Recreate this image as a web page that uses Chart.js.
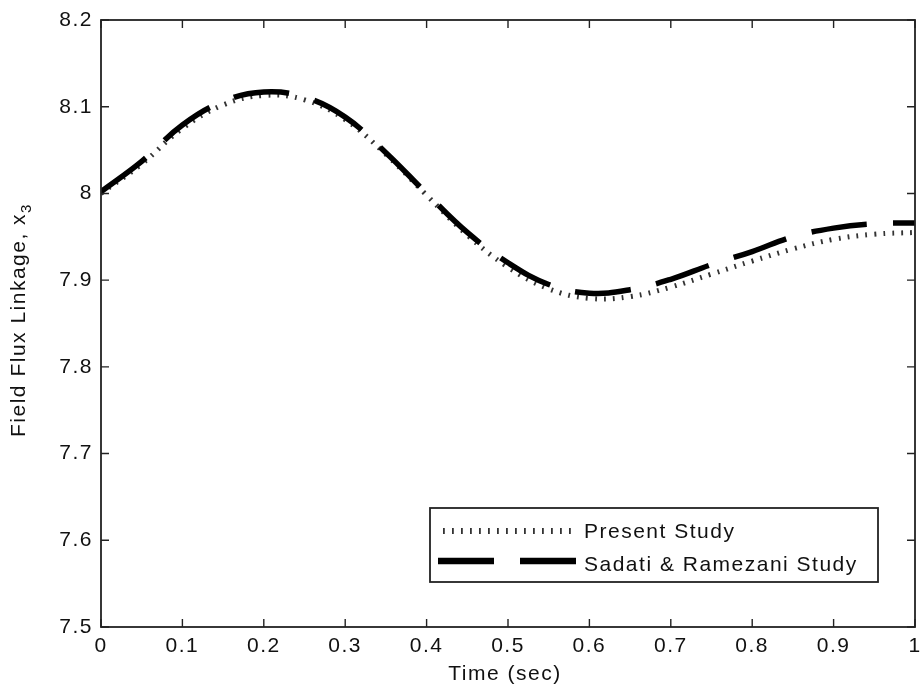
<!DOCTYPE html>
<html lang="en">
<head>
    <meta charset="UTF-8">
    <title>Field Flux Linkage</title>
    <script src="https://cdn.jsdelivr.net/npm/chart.js@4.4.1/dist/chart.umd.min.js"></script>
    <style>
        body {
            margin: 0;
            padding: 0;
            background-color: #ffffff;
        }

        .chart-container {
            position: relative;
            width: 920px;
            height: 693px;
        }
    </style>
</head>
<body>
    <div class="chart-container">
        <canvas id="flux-chart" width="920" height="693"></canvas>
    </div>

    <script>
        // Values
        const timeValues = [0, 0.05, 0.1, 0.15, 0.2, 0.25, 0.3, 0.35, 0.4, 0.45, 0.5,
                            0.55, 0.6, 0.65, 0.7, 0.75, 0.8, 0.85, 0.9, 0.95, 1.0];
        const presentStudy = [8.000, 8.034, 8.075, 8.102, 8.113, 8.108, 8.085, 8.045, 7.998, 7.952, 7.915,
                              7.890, 7.879, 7.881, 7.892, 7.907, 7.922, 7.936, 7.947, 7.953, 7.955];
        const sadatiStudy = [8.002, 8.037, 8.079, 8.106, 8.117, 8.111, 8.088, 8.047, 8.000, 7.955, 7.920,
                             7.895, 7.885, 7.889, 7.901, 7.918, 7.933, 7.950, 7.960, 7.965, 7.966];
        const xTickLabels = ['0', '0.1', '0.2', '0.3', '0.4', '0.5', '0.6', '0.7', '0.8', '0.9', '1'];
        const yTickLabels = ['7.5', '7.6', '7.7', '7.8', '7.9', '8', '8.1', '8.2'];
        const seriesNames = ['Present Study', 'Sadati & Ramezani Study'];

        const FAMILY = '"Liberation Sans", Arial, sans-serif';
        const FONT = '21px ' + FAMILY;
        const SPACING = '1.5px';
        const INK = '#111111';

        function toPoints(ys) {
            return timeValues.map((t, i) => ({ x: t, y: ys[i] }));
        }

        // box, inward ticks, axis titles and legend, MATLAB style
        const matlabFrame = {
            id: 'matlabFrame',
            beforeDraw(chart) {
                chart.ctx.letterSpacing = SPACING;
            },
            afterDraw(chart) {
                const ctx = chart.ctx;
                const area = chart.chartArea;
                const xs = chart.scales.x;
                const ys = chart.scales.y;
                const tick = 8;

                ctx.save();
                ctx.strokeStyle = '#222';
                ctx.lineWidth = 1.8;
                ctx.strokeRect(area.left, area.top, area.right - area.left, area.bottom - area.top);

                ctx.lineWidth = 1.4;
                ctx.beginPath();
                xs.ticks.forEach(t => {
                    const px = xs.getPixelForValue(t.value);
                    ctx.moveTo(px, area.bottom);
                    ctx.lineTo(px, area.bottom - tick);
                    ctx.moveTo(px, area.top);
                    ctx.lineTo(px, area.top + tick);
                });
                ys.ticks.forEach(t => {
                    const py = ys.getPixelForValue(t.value);
                    ctx.moveTo(area.left, py);
                    ctx.lineTo(area.left + tick, py);
                    ctx.moveTo(area.right, py);
                    ctx.lineTo(area.right - tick, py);
                });
                ctx.stroke();

                // axis titles
                ctx.fillStyle = INK;
                ctx.font = FONT;
                ctx.letterSpacing = SPACING;
                ctx.textAlign = 'center';
                ctx.textBaseline = 'alphabetic';
                ctx.fillText('Time (sec)', 505, 680);

                ctx.save();
                ctx.translate(25, 320);
                ctx.rotate(-Math.PI / 2);
                const main = 'Field Flux Linkage, x';
                ctx.font = FONT;
                const mainW = ctx.measureText(main).width;
                ctx.font = '15px ' + FAMILY;
                const subW = ctx.measureText('3').width;
                const start = -(mainW + subW) / 2;
                ctx.textAlign = 'left';
                ctx.font = FONT;
                ctx.fillText(main, start, 0);
                ctx.font = '15px ' + FAMILY;
                ctx.fillText('3', start + mainW, 6);
                ctx.restore();

                // legend
                const lg = { left: 430, top: 508, right: 878, bottom: 582 };
                ctx.fillStyle = '#ffffff';
                ctx.fillRect(lg.left, lg.top, lg.right - lg.left, lg.bottom - lg.top);
                ctx.strokeStyle = '#222';
                ctx.lineWidth = 1.8;
                ctx.strokeRect(lg.left, lg.top, lg.right - lg.left, lg.bottom - lg.top);

                const sets = chart.data.datasets;
                const rows = [561, 531];
                sets.forEach((ds, i) => {
                    ctx.beginPath();
                    ctx.strokeStyle = ds.borderColor;
                    ctx.lineWidth = ds.borderWidth + 1;
                    ctx.setLineDash(ds.borderDash);
                    ctx.lineCap = 'butt';
                    ctx.moveTo(ds.legendStart, rows[i]);
                    ctx.lineTo(578, rows[i]);
                    ctx.stroke();
                });
                ctx.setLineDash([]);
                ctx.fillStyle = INK;
                ctx.font = FONT;
                ctx.textAlign = 'left';
                ctx.fillText(sets[1].label, 584, 538);
                ctx.fillText(sets[0].label, 584, 571);
                ctx.restore();
            }
        };

        new Chart(document.getElementById('flux-chart'), {
            type: 'line',
            data: {
                datasets: [{
                    label: seriesNames[1],
                    data: toPoints(sadatiStudy),
                    borderColor: '#000000',
                    borderWidth: 5.5,
                    borderDash: [56, 26],
                    legendStart: 438,
                    pointRadius: 0,
                    tension: 0.4,
                    fill: false
                }, {
                    label: seriesNames[0],
                    data: toPoints(presentStudy),
                    borderColor: '#333333',
                    borderWidth: 5,
                    borderDash: [1.8, 7.2],
                    legendStart: 443,
                    pointRadius: 0,
                    tension: 0.4,
                    fill: false
                }]
            },
            options: {
                responsive: false,
                animation: false,
                layout: {
                    padding: { top: 20, right: 5, left: 0, bottom: 0 }
                },
                plugins: {
                    legend: { display: false },
                    tooltip: { enabled: false }
                },
                scales: {
                    x: {
                        type: 'linear',
                        min: 0,
                        max: 1,
                        afterFit(scale) {
                            scale.height = 66;
                            scale.paddingLeft = 0;
                            scale.paddingRight = 0;
                        },
                        grid: { display: false, drawTicks: false },
                        border: { display: false },
                        ticks: {
                            stepSize: 0.1,
                            autoSkip: false,
                            maxRotation: 0,
                            padding: 7,
                            color: INK,
                            font: { family: FAMILY, size: 21 },
                            callback: (v, i) => xTickLabels[i]
                        }
                    },
                    y: {
                        min: 7.5,
                        max: 8.2,
                        afterFit(scale) {
                            scale.width = 101;
                            scale.paddingTop = 0;
                            scale.paddingBottom = 0;
                        },
                        grid: { display: false, drawTicks: false },
                        border: { display: false },
                        ticks: {
                            stepSize: 0.1,
                            autoSkip: false,
                            padding: 8,
                            color: INK,
                            font: { family: FAMILY, size: 21 },
                            callback: (v, i) => yTickLabels[i]
                        }
                    }
                }
            },
            plugins: [matlabFrame]
        });
    </script>
</body>
</html>
